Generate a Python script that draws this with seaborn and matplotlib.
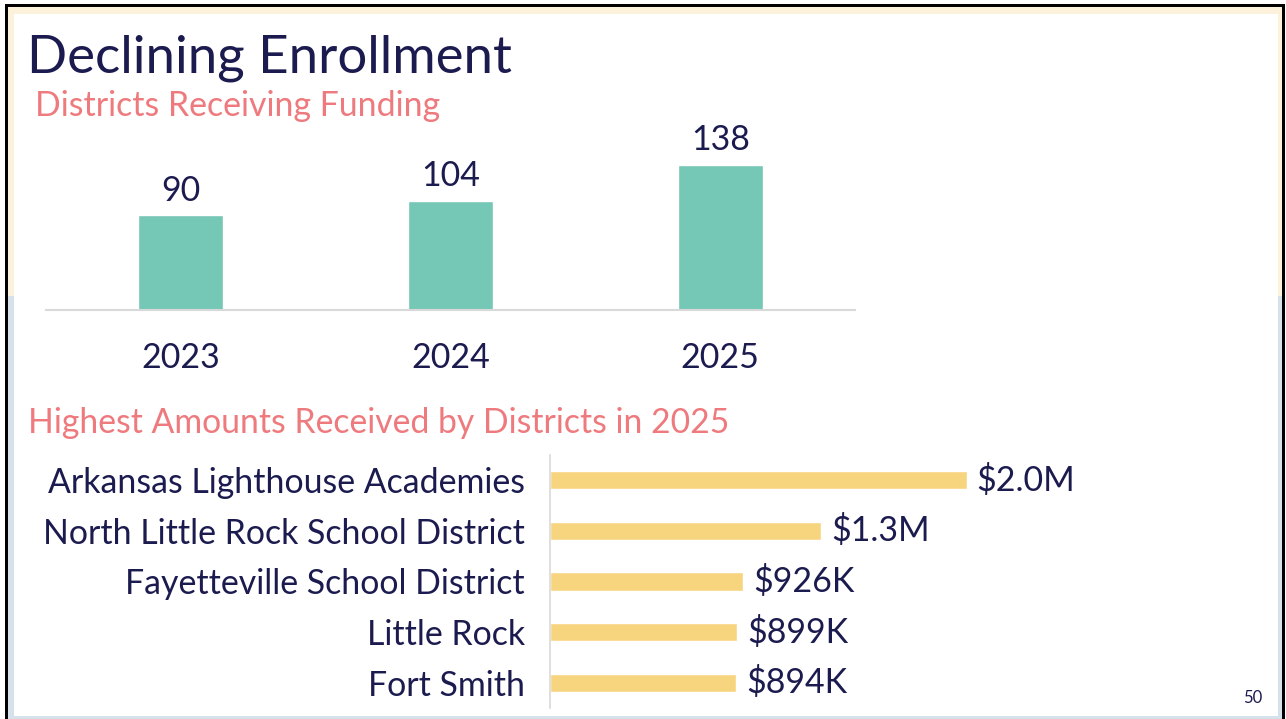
import matplotlib
matplotlib.use("Agg")
import matplotlib.pyplot as plt
import seaborn as sns
from matplotlib.patches import Rectangle

# ---- data ----
years = ["2023", "2024", "2025"]
districts_funded = [90, 104, 138]

districts = [
    "Arkansas Lighthouse Academies",
    "North Little Rock School District",
    "Fayetteville School District",
    "Little Rock",
    "Fort Smith",
]
amounts = [2000000, 1300000, 926000, 899000, 894000]
amount_labels = ["$2.0M", "$1.3M", "$926K", "$899K", "$894K"]

# ---- style ----
sns.set_theme(style="white")
plt.rcParams["font.family"] = ["Lato", "DejaVu Sans"]

NAVY = "#1C1B4F"
SALMON = "#EE7A7E"
TEAL = "#75C7B6"
YELLOW = "#F7D47E"
GRID = "#D9D9D9"

W, H = 1286, 719
fig = plt.figure(figsize=(W / 100, H / 100), dpi=100)
fig.patch.set_facecolor("white")


def fx(px):
    return px / W


def fy(py):
    return 1 - py / H


# slide frame
bg = fig.add_axes([0, 0, 1, 1], zorder=-10)
bg.set_xlim(0, W)
bg.set_ylim(H, 0)
bg.axis("off")
bg.add_patch(Rectangle((5, 4), 1280, 720, facecolor="black", edgecolor="none"))
bg.add_patch(Rectangle((8, 7), 1274, 290, facecolor="#FCF1DA", edgecolor="none"))
bg.add_patch(Rectangle((8, 296), 1274, 430, facecolor="#D5E2EC", edgecolor="none"))
bg.add_patch(Rectangle((14, 14), 1264, 702, facecolor="white", edgecolor="none"))

# titles
fig.text(fx(27), fy(73), "Declining Enrollment", fontsize=38, color=NAVY, va="baseline")
fig.text(fx(35), fy(116), "Districts Receiving Funding", fontsize=24.4, color=SALMON, va="baseline")
fig.text(fx(28), fy(433), "Highest Amounts Received by Districts in 2025", fontsize=24.3,
         color=SALMON, va="baseline")
fig.text(fx(1243), fy(703), "50", fontsize=12, color=NAVY, va="baseline")

# ---- top column chart ----
ax1 = fig.add_axes([fx(46), fy(310), fx(855) - fx(46), fy(130) - fy(310)])
ax1.set_facecolor("none")
sns.barplot(x=years, y=districts_funded, color=TEAL, width=0.315, saturation=1, ax=ax1)
ax1.set_xlim(-0.5, 2.5)
ax1.set_ylim(0, 171)
for s in ["top", "left", "right"]:
    ax1.spines[s].set_visible(False)
ax1.spines["bottom"].set_color(GRID)
ax1.spines["bottom"].set_linewidth(1.5)
ax1.set_yticks([])
ax1.tick_params(axis="x", length=0, pad=23, labelsize=24.5, labelcolor=NAVY)
ax1.set_xlabel("")
ax1.set_ylabel("")
ax1.bar_label(ax1.containers[0], padding=6, fontsize=24.5, color=NAVY)

# ---- bottom horizontal bar chart ----
ax2 = fig.add_axes([fx(550), fy(708), fx(1200) - fx(550), fy(455) - fy(708)])
ax2.set_facecolor("none")
sns.barplot(x=amounts, y=districts, orient="h", color=YELLOW, width=0.36, saturation=1, ax=ax2)
ax2.set_xlim(0, 3.117e6)
ax2.set_ylim(4.5, -0.5)
for s in ["top", "bottom", "right"]:
    ax2.spines[s].set_visible(False)
ax2.spines["left"].set_color(GRID)
ax2.spines["left"].set_linewidth(1.2)
ax2.set_xticks([])
ax2.tick_params(axis="y", length=0, pad=18, labelsize=24.4, labelcolor=NAVY)
ax2.set_xlabel("")
ax2.set_ylabel("")
ax2.bar_label(ax2.containers[0], labels=amount_labels, padding=7, fontsize=24.5, color=NAVY)

fig.savefig("out.png", dpi=100, facecolor=fig.get_facecolor())
